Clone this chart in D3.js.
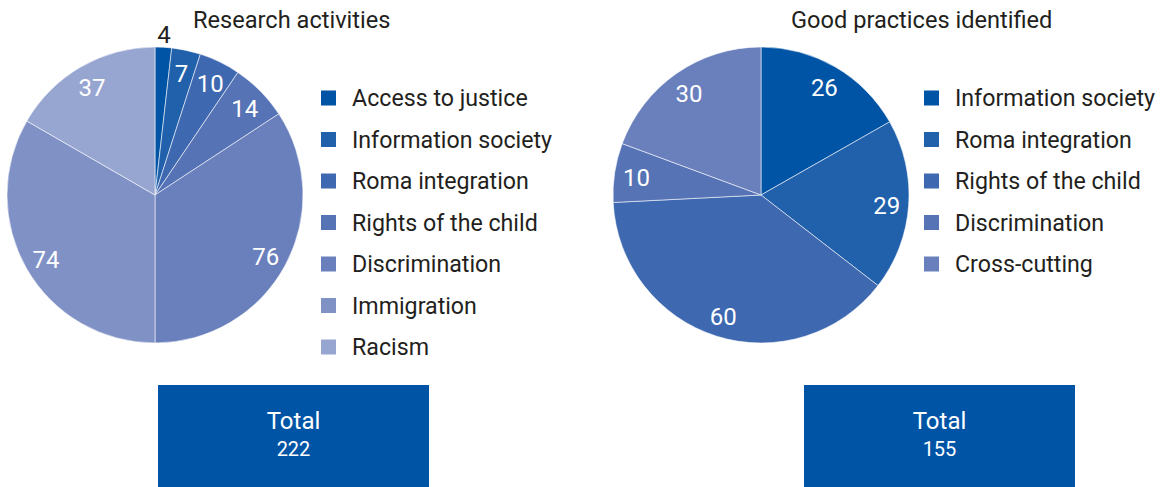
<!DOCTYPE html>
<html>
<head>
<meta charset="utf-8">
<script src="https://cdn.jsdelivr.net/npm/d3@7"></script>
<style>
html,body{margin:0;padding:0;background:#fff;}
svg{display:block;}
text{font-family:Roboto, "Open Sans", sans-serif;}
</style>
</head>
<body>
<svg id="chart" width="1171" height="487"></svg>
<script>
// ---- data ----
const researchCategories = ["Access to justice","Information society","Roma integration","Rights of the child","Discrimination","Immigration","Racism"];
const researchValues = [4,7,10,14,76,74,37];
const researchTitle = "Research activities";

const practiceCategories = ["Information society","Roma integration","Rights of the child","Discrimination","Cross-cutting"];
const practiceValues = [26,29,60,10,30];
const practiceTitle = "Good practices identified";

const totalLabel = "Total";

// ---- styles ----
const palette = ["#0054a6","#2160ab","#3e68b0","#5673b6","#6a80bd","#8091c6","#97a6d1"];
const textColor = "#231f20";

const svg = d3.select("#chart");

function drawPanel(cfg){
  const g = svg.append("g");
  const color = d3.scaleOrdinal().domain(cfg.categories).range(palette);
  const data = cfg.categories.map((c,i)=>({cat:c, value:cfg.values[i]}));
  const pie = d3.pie().value(d=>d.value).sort(null);
  const arcs = pie(data);
  const arc = d3.arc().innerRadius(0).outerRadius(cfg.r);
  const pg = g.append("g").attr("transform",`translate(${cfg.cx},${cfg.cy})`);
  pg.selectAll("path").data(arcs).join("path")
    .attr("d",arc).attr("fill",d=>color(d.data.cat))
    .attr("stroke","#fff").attr("stroke-width",0.7).attr("stroke-opacity",0.8);
  pg.selectAll("text").data(arcs).join("text")
    .attr("transform",d=>{
      const small = (d.endAngle-d.startAngle) < 0.15;
      const rr = small ? cfg.r+13 : cfg.labelR;
      const a = (d.startAngle+d.endAngle)/2;
      return `translate(${Math.sin(a)*rr},${-Math.cos(a)*rr + (small?1:2)})`;
    })
    .attr("text-anchor","middle").attr("dominant-baseline","central")
    .attr("font-size",24)
    .attr("fill",d=> (d.endAngle-d.startAngle) < 0.15 ? textColor : "#fff")
    .text(d=>d.data.value);
  // title
  g.append("text").attr("x",cfg.titleX).attr("y",28)
    .attr("font-size",23.6).attr("fill",textColor).text(cfg.title);
  // legend
  const lg = g.append("g");
  const rows = lg.selectAll("g").data(cfg.categories).join("g")
    .attr("transform",(d,i)=>`translate(${cfg.legX},${98+i*41.5})`);
  rows.append("rect").attr("x",0).attr("y",-7.5).attr("width",15).attr("height",15)
    .attr("fill",d=>color(d));
  rows.append("text").attr("x",cfg.legTextDx).attr("y",0)
    .attr("dominant-baseline","central").attr("font-size",23.2)
    .attr("fill",textColor)
    .text(d=>d);
  // total box
  const total = d3.sum(cfg.values);
  g.append("rect").attr("x",cfg.boxX).attr("y",385).attr("width",271).attr("height",102)
    .attr("fill","#0054a6");
  g.append("text").attr("x",cfg.boxX+135.5).attr("y",429).attr("text-anchor","middle")
    .attr("font-size",24).attr("fill","#fff").text(totalLabel);
  g.append("text").attr("x",cfg.boxX+135.5).attr("y",456).attr("text-anchor","middle")
    .attr("font-size",20).attr("fill","#fff").text(total);
}

drawPanel({categories:researchCategories, values:researchValues, title:researchTitle,
  cx:155, cy:195, r:148, labelR:126, titleX:193, legX:321, legTextDx:31, boxX:158});
drawPanel({categories:practiceCategories, values:practiceValues, title:practiceTitle,
  cx:761, cy:195, r:148, labelR:126, titleX:791, legX:924, legTextDx:31, boxX:804});
</script>
</body>
</html>
